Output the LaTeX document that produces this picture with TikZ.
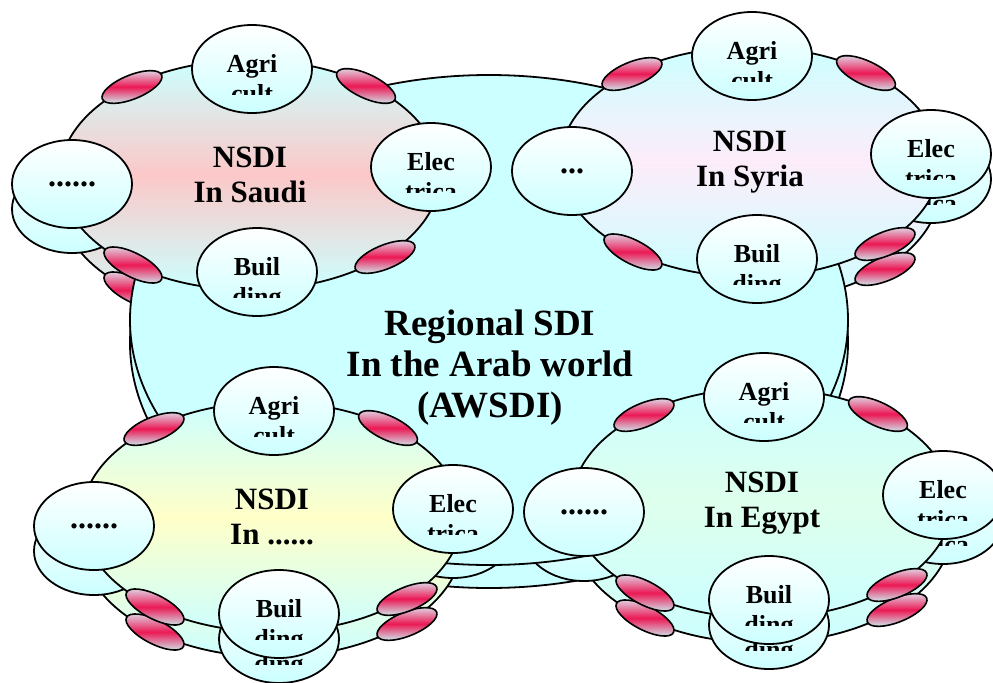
\documentclass[tikz,border=0pt]{standalone}
\usepackage{fontspec}
\setmainfont{Liberation Serif}
\usetikzlibrary{shapes.geometric,positioning}
\definecolor{skyc}{RGB}{204,255,255}
\definecolor{ovred}{RGB}{235,25,85}
\definecolor{ovtop}{RGB}{222,228,240}
\definecolor{ovbot}{RGB}{205,248,250}
\definecolor{saudic}{RGB}{252,200,200}
\definecolor{syriac}{RGB}{253,236,250}
\definecolor{otherc}{RGB}{255,255,200}
\definecolor{egyptc}{RGB}{222,255,236}

\newcommand{\satnode}[4]{%
  \node[sat] (#1) at (#2) {};
  \node[satword, anchor=base] (#1-a) at ([yshift=-1.5pt]#1.center) {#3};
  \begin{scope}
    \clip ([xshift=-30pt,yshift=22pt]#1.center) rectangle ([xshift=30pt,yshift=-12.5pt]#1.center);
    \node[satword, anchor=base] (#1-b) at ([yshift=-16.5pt]#1.center) {#4};
  \end{scope}}

\newcommand{\cluster}[5]{%
  \node[nsdi, middle color=#3] (#1) at (#2) {NSDI\\#4};
  \node[oval, rotate=22] (#1-o1) at ([shift={(-118,-88)}]#1.center) {};
  \node[oval, rotate=-25] (#1-o2) at ([shift={(116,-89)}]#1.center) {};
  \node[oval, rotate=-27] (#1-o3) at ([shift={(-117,90)}]#1.center) {};
  \node[oval, rotate=22] (#1-o4) at ([shift={(135,82)}]#1.center) {};
  \satnode{#1-agri}{[shift={(2,-106)}]#1.center}{Agri}{cult}
  \satnode{#1-elec}{[shift={(181,-8)}]#1.center}{Elec}{trica}
  \satnode{#1-buil}{[shift={(7,97)}]#1.center}{Buil}{ding}
  \node[sat, font=\bfseries\fontsize{16}{18}\selectfont] (#1-dots) at ([shift={(-178,9)}]#1.center) {#5};}

\begin{document}
\begin{tikzpicture}[x=0.5pt, y=-0.5pt,
  region/.style={ellipse, draw, line width=0.9pt, fill=skyc,
    minimum width=359pt, minimum height=245pt, inner sep=0pt},
  nsdi/.style={ellipse, draw, line width=0.9pt, top color=skyc, bottom color=skyc,
    minimum width=190pt, minimum height=115pt, inner sep=0pt, align=center,
    font=\bfseries\fontsize{15.5}{17.5}\selectfont},
  sat/.style={ellipse, draw, line width=0.9pt, top color=white, bottom color=skyc,
    minimum width=60pt, minimum height=44pt, inner sep=0pt},
  satword/.style={inner sep=0pt, font=\bfseries\fontsize{13}{15}\selectfont},
  oval/.style={ellipse, draw, line width=0.8pt, top color=ovtop, bottom color=ovbot,
    middle color=ovred, minimum width=32pt, minimum height=12pt, inner sep=0pt}
  ]
  \useasboundingbox (0,0) rectangle (993,682);
  \node[region] (awsdi-back) at (489,343) {};
  \begin{scope}[yshift=-12.5pt]
    \cluster{saudiB}{250,175}{saudic}{In Saudi}{......}
    \cluster{syriaB}{750,162}{syriac}{In Syria}{...}
    \cluster{otherB}{272,517}{otherc}{In ......}{......}
    \cluster{egyptB}{762,503}{egyptc}{In Egypt}{......}
  \end{scope}
  \node[region] (awsdi) at (489,320) {};
  \node[align=center, font=\bfseries\fontsize{18.5}{20.5}\selectfont] (awsdi-text)
    at (490,368) {Regional SDI\\In the Arab world\\(AWSDI)};
  \cluster{saudi}{250,175}{saudic}{In Saudi}{......}
  \cluster{syria}{750,162}{syriac}{In Syria}{...}
  \cluster{other}{272,517}{otherc}{In ......}{......}
  \cluster{egypt}{762,503}{egyptc}{In Egypt}{......}
\end{tikzpicture}
\end{document}
